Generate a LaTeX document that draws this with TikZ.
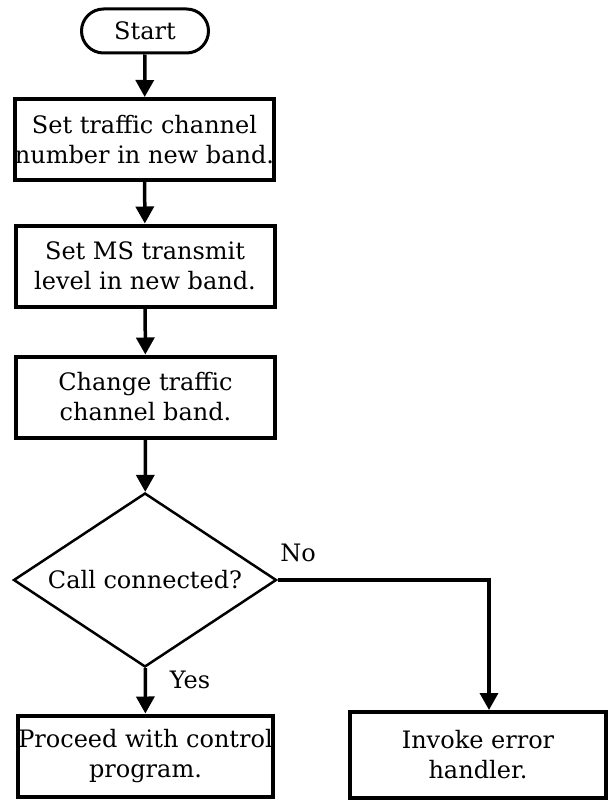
\documentclass[tikz,border=0pt]{standalone}
\usepackage{fontspec}
\setmainfont{DejaVu Serif}
\usetikzlibrary{arrows.meta,positioning,shapes.geometric}

\begin{document}
\begin{tikzpicture}[x=1pt,y=-1pt,
  txt/.style={font=\fontsize{24}{30}\selectfont},
  stepbox/.style={txt,draw,line width=4pt,minimum width=259pt,minimum height=81pt,inner sep=0pt,align=center},
  flow/.style={line width=3.5pt,-{Triangle[length=17pt,width=18pt]}}]

  \useasboundingbox (0,0) rectangle (608,800);

  % Start terminal
  \node[txt,draw,line width=3pt,rounded corners=22pt,minimum width=127pt,minimum height=44pt] (start) at (145,31) {Start};

  % Steps
  \node[stepbox] (chan) at (144.5,139.5) {Set traffic channel\\number in new band.};
  \node[stepbox] (lvl) at (145,266) {Set MS transmit\\level in new band.};
  \node[stepbox] (band) at (145.5,397) {Change traffic\\channel band.};

  % Decision
  \node[txt,draw,diamond,shape aspect=1.5,line width=2.5pt,minimum width=263pt,minimum height=174pt,inner sep=0pt] (conn) at (145,580) {\makebox[0pt]{Call connected?}};

  % Outcomes
  \node[stepbox,minimum width=255pt] (proc) at (145.5,756) {Proceed with control\\program.};
  \node[stepbox,minimum width=256pt,minimum height=86pt] (err) at (478,755) {Invoke error\\handler.};

  \node[txt] (no) at (298,553) {No};
  \node[txt] (yes) at (190,680) {Yes};

  \draw[flow] (start) -- (chan);
  \draw[flow] (chan) -- (lvl);
  \draw[flow] (lvl) -- (band);
  \draw[flow] (band) -- (conn);
  \draw[flow] (conn) -- (proc);
  \draw[flow] (conn.east) -| (err.north -| 489,0);

\end{tikzpicture}
\end{document}
